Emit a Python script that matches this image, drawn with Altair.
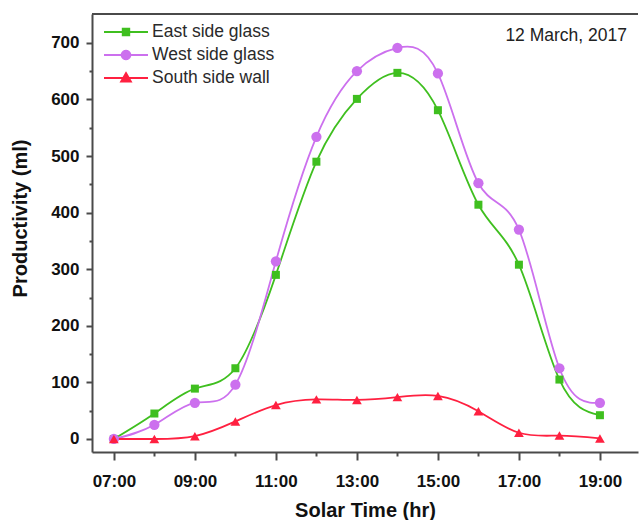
import math
import altair as alt
import pandas as pd

# ---- data ----
hours = list(range(7, 20))
east = [0, 45, 89, 125, 290, 490, 601, 647, 581, 414, 308, 105, 42]
west = [0, 25, 64, 96, 314, 534, 650, 691, 646, 452, 370, 125, 64]
south = [0, 0, 5, 31, 60, 70, 69, 74, 76, 49, 11, 6, 1]
series_names = ["East side glass", "West side glass", "South side wall"]
date_note = ["12 March, 2017"]

colors = ["#3fbf1f", "#cc70ee", "#ff2040"]
shapes = ["square", "circle", "triangle-up"]
sizes = [64, 105, 95]

rows = []
for name, vals in zip(series_names, [east, west, south]):
    for h, v in zip(hours, vals):
        rows.append({"hour": h, "value": v, "series": name})
df = pd.DataFrame(rows)

W, H = 546, 438
FONT = "Liberation Sans"


def poly_circle(r, n=20):
    pts = [(r * math.cos(2 * math.pi * i / n), r * math.sin(2 * math.pi * i / n)) for i in range(n)]
    return "M" + "L".join(f"{x:.3f},{y:.3f}" for x, y in pts) + "Z"


seg = "M-2,0H2"
legend_paths = [
    seg + "M-0.3,-0.3H0.3V0.3H-0.3Z",
    seg + poly_circle(0.4),
    seg + "M0,-0.45L0.45,0.33L-0.45,0.33Z",
]

legend = alt.Legend(
    orient="none",
    legendX=22,
    legendY=6,
    title=None,
    symbolSize=484,
    symbolStrokeWidth=1.8,
    symbolOpacity=1,
    labelOffset=14,
    rowPadding=2,
    padding=0,
    labelFont=FONT,
    labelFontSize=17.5,
    labelColor="#2a2a2a",
    labelLimit=400,
)

x_enc = alt.X(
    "hour:Q",
    scale=alt.Scale(domain=[6.46, 19.94], nice=False, zero=False),
    axis=alt.Axis(
        values=hours,
        labelExpr="datum.value % 2 == 1 ? (datum.value < 10 ? '0' : '') + datum.value + ':00' : ''",
        tickSize={"condition": {"test": "datum.value % 2 == 1", "value": 8}, "value": 4},
        title="Solar Time (hr)",
        titleY=58,
        titleBaseline="middle",
        labelPadding=13,
    ),
)
y_enc = alt.Y(
    "value:Q",
    scale=alt.Scale(domain=[-23, 751], nice=False, zero=False),
    axis=alt.Axis(
        values=list(range(0, 701, 50)),
        labelExpr="datum.value % 100 == 0 ? datum.label : ''",
        tickSize={"condition": {"test": "datum.value % 100 == 0", "value": 6}, "value": 3},
        title="Productivity (ml)",
        titleX=-72,
        titleY=204,
        titleAngle=270,
        titleAlign="center",
        titleBaseline="middle",
        labelPadding=7,
    ),
)

base = alt.Chart(df)

line_layers = []
point_layers = []
for name, col, shp, sz in zip(series_names, colors, shapes, sizes):
    sub = base.transform_filter(alt.datum.series == name)
    line_layers.append(
        sub.mark_line(interpolate="natural", strokeWidth=1.8, color=col).encode(x=x_enc, y=y_enc)
    )
    point_layers.append(
        sub.mark_point(filled=True, opacity=1, shape=shp, size=sz, color=col).encode(x=x_enc, y=y_enc)
    )

# legend-only layer: no marks drawn, legend symbols drawn as line + marker
legend_layer = (
    base.transform_filter("false")
    .mark_point(filled=True)
    .encode(
        x=x_enc,
        y=y_enc,
        fill=alt.Fill("series:N", scale=alt.Scale(domain=series_names, range=colors), legend=legend),
        stroke=alt.Stroke("series:N", scale=alt.Scale(domain=series_names, range=colors), legend=legend),
        shape=alt.Shape("series:N", scale=alt.Scale(domain=series_names, range=legend_paths), legend=legend),
    )
)

top_border = alt.Chart(pd.DataFrame({"a": [0]})).mark_rule(color="#4a4a4a", strokeWidth=2).encode(
    x=alt.value(0), x2=alt.value(W), y=alt.value(0)
)

note = alt.Chart(pd.DataFrame({"t": date_note})).mark_text(
    align="right", baseline="middle", font=FONT, fontSize=17.5, color="#222222"
).encode(text="t:N", x=alt.value(535), y=alt.value(22))

chart = (
    alt.layer(*line_layers, *point_layers, legend_layer, top_border, note)
    .properties(
        width=W,
        height=H,
        autosize=alt.AutoSizeParams(type="none"),
        padding={"left": 92, "top": 14, "right": 1, "bottom": 68},
    )
    .configure_view(stroke=None)
    .configure_axis(
        grid=False,
        domainColor="#4a4a4a",
        domainWidth=2,
        tickColor="#4a4a4a",
        tickWidth=2,
        labelFont=FONT,
        labelFontWeight="bold",
        labelFontSize=17,
        labelColor="#111111",
        titleFont=FONT,
        titleFontWeight="bold",
        titleFontSize=20,
        titleColor="#111111",
    )
)

chart.save("out.html", embed_options={"renderer": "svg", "actions": False})
